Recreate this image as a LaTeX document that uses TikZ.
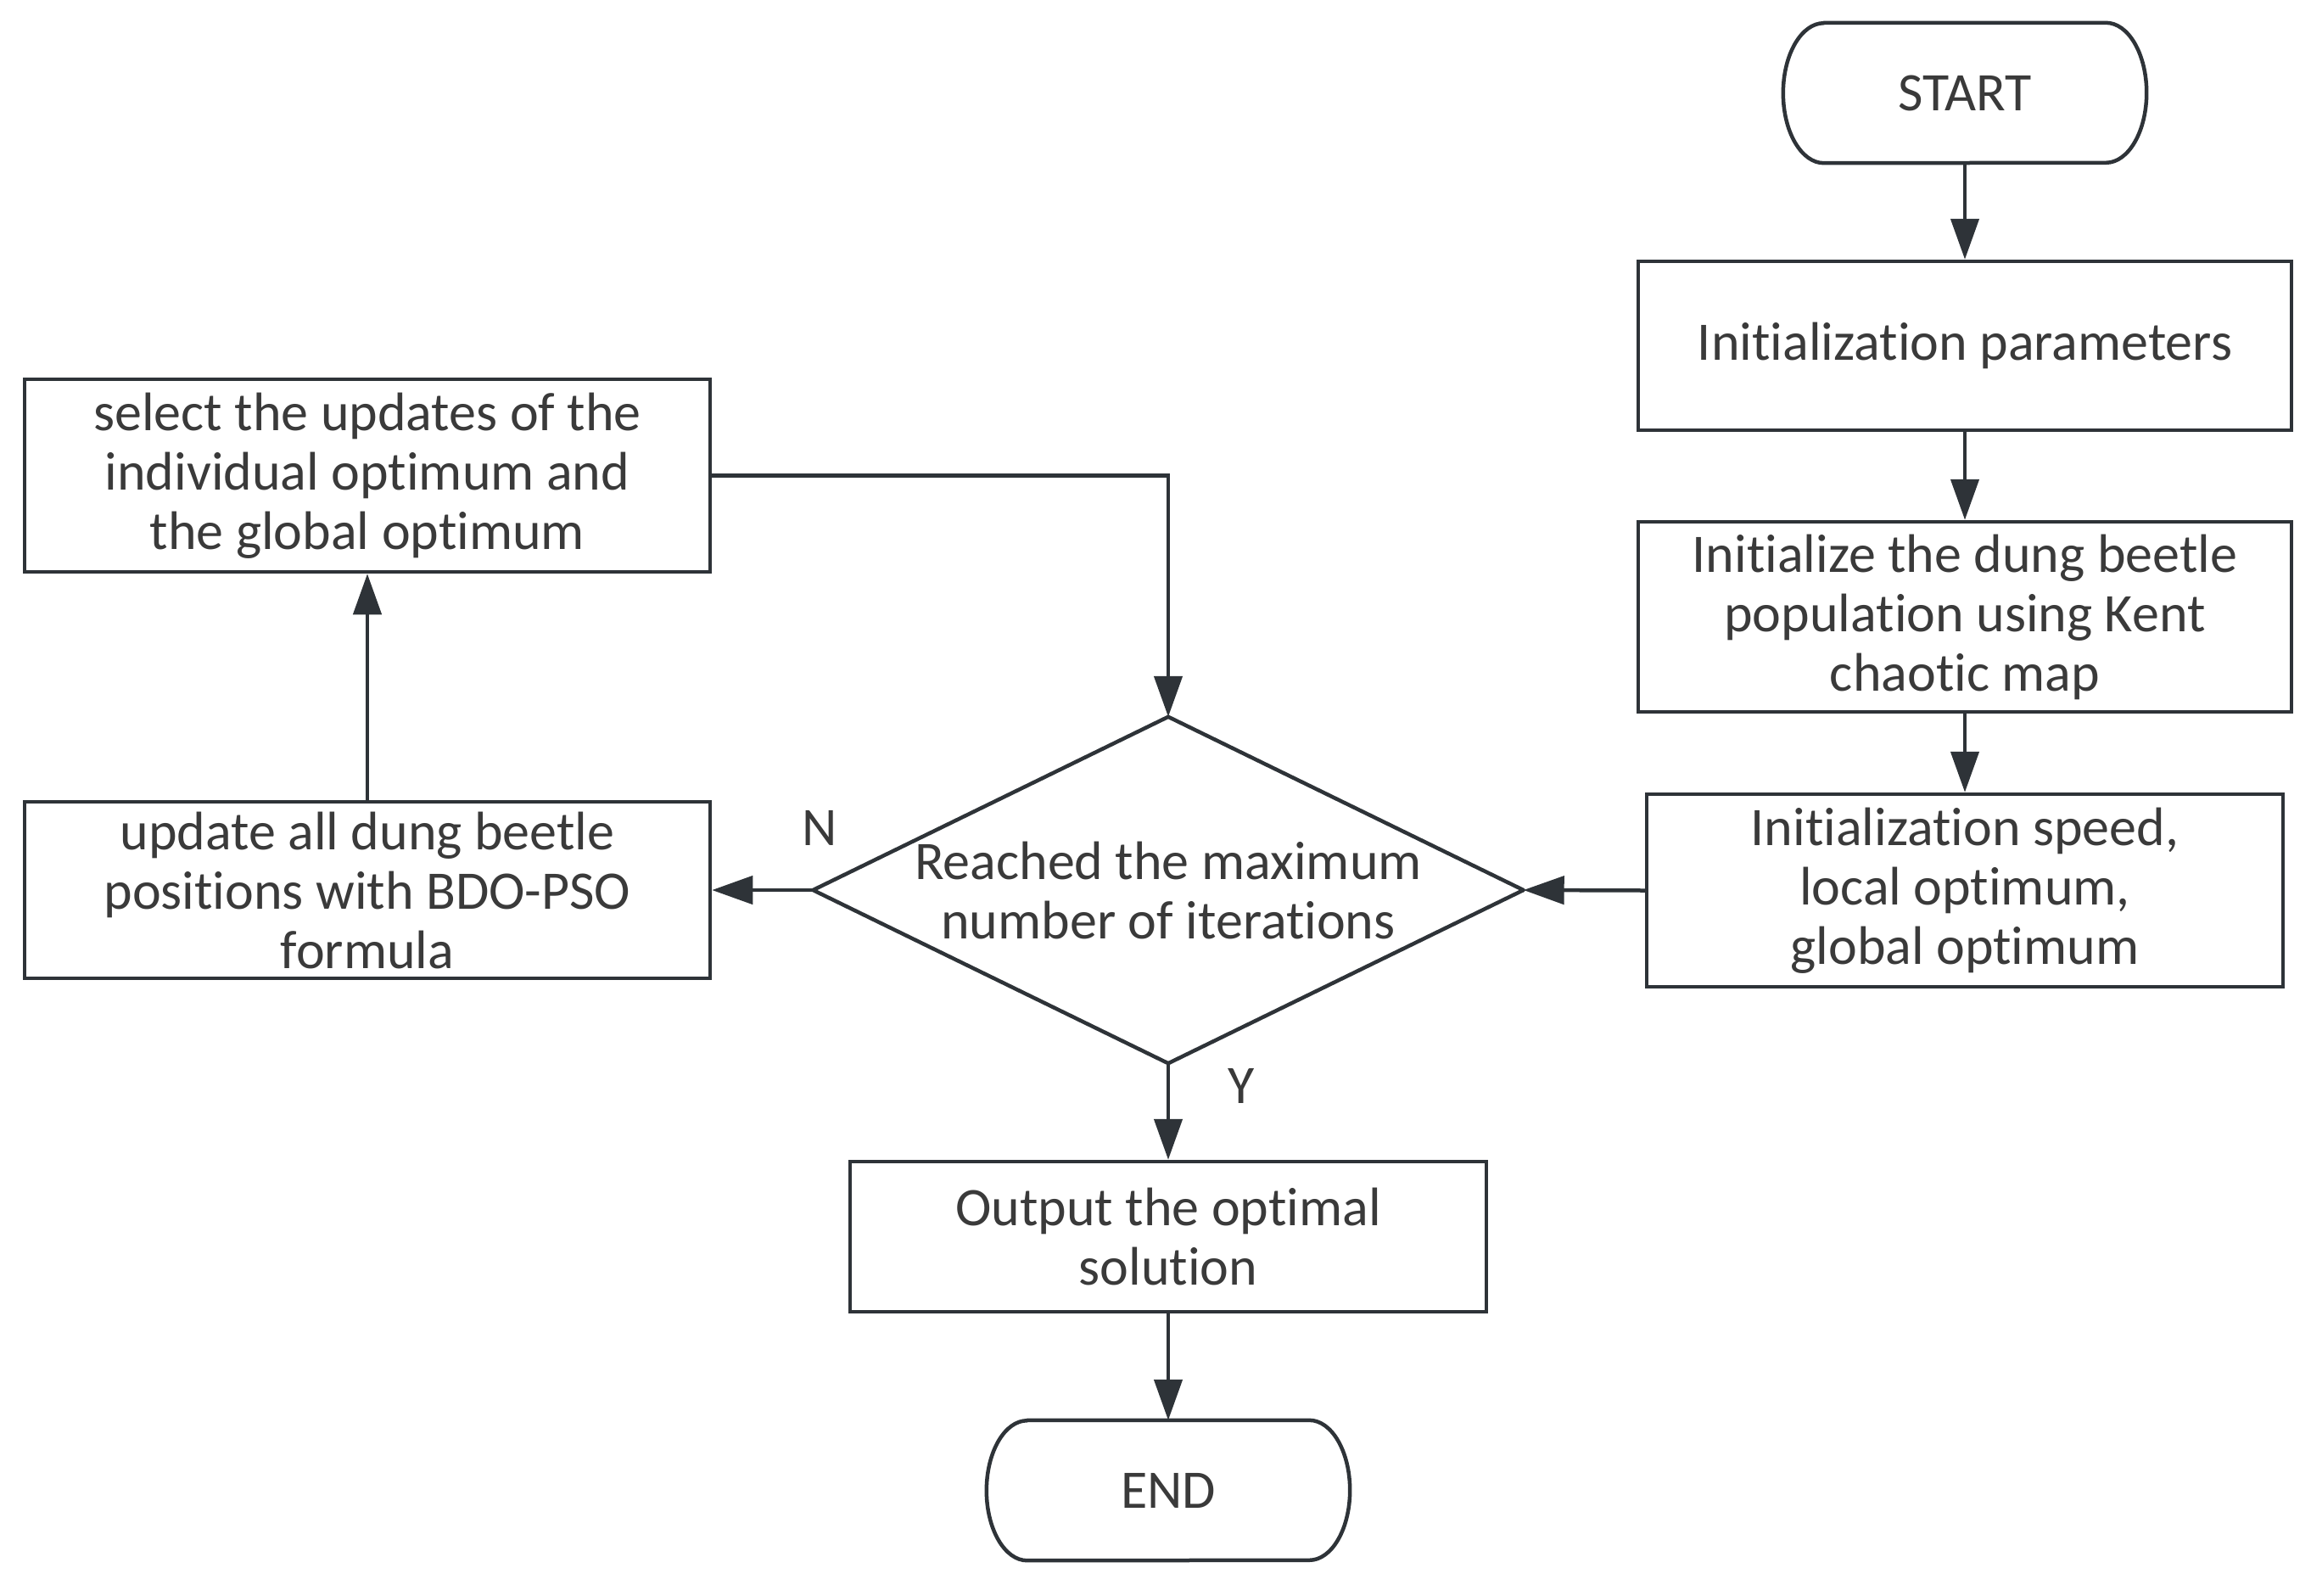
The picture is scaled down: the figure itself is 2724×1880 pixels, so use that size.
\documentclass[tikz,border=0pt]{standalone}
\usepackage{fontspec}
\setmainfont{Carlito}[Ligatures={NoCommon}]
\usetikzlibrary{arrows.meta}
\definecolor{ln}{HTML}{2E3338}
\definecolor{tx}{HTML}{3A3A3A}
\begin{document}
\begin{tikzpicture}[x=1pt,y=-1pt,
  font=\fontsize{64pt}{70pt}\selectfont, text=tx,
  box/.style={draw=ln, line width=4.5pt, align=center, inner sep=0pt},
  term/.style={draw=none, align=center, inner sep=0pt, minimum width=428pt, minimum height=165pt},
  outline/.style={draw=ln, line width=4.5pt, line join=round},
  flow/.style={draw=ln, line width=4.5pt, -{Triangle[length=48pt,width=33pt]}},
  lbl/.style={inner sep=0pt}]
\useasboundingbox (0,0) rectangle (2724,1880);
\fill[white] (0,0) rectangle (2724,1880);

% nodes
\node[term] (s) at (2316,109.5) {START};
\node[box, minimum width=770pt, minimum height=199pt] (p1) at (2316,407.5) {Initialization parameters};
\node[box, minimum width=770pt, minimum height=224pt] (p2) at (2316,727) {Initialize the dung beetle\\population using Kent\\chaotic map};
\node[box, minimum width=750pt, minimum height=227pt] (p3) at (2316,1049.5) {Initialization speed,\\local optimum,\\global optimum};
\node[align=center, inner sep=0pt, minimum width=837pt, minimum height=408pt] (d) at (1377,1049) {Reached the maximum\\number of iterations};
\node[box, minimum width=808pt, minimum height=208pt] (upd) at (433,1049) {update all dung beetle\\positions with BDO-PSO\\formula};
\node[box, minimum width=808pt, minimum height=227pt] (sel) at (433,560.5) {select the updates of the\\individual optimum and\\the global optimum};
\node[box, minimum width=750pt, minimum height=177pt] (out) at (1377,1457.5) {Output the optimal\\solution};
\node[term] (e) at (1377,1756.5) {END};
\node[lbl] (nl) at (966,976) {N};
\node[lbl] (yl) at (1463,1280) {Y};

% outlines of terminals and decision
\draw[outline] ([xshift=48pt]s.north west) -- ([xshift=-48pt]s.north east)
  arc[start angle=90,end angle=-90,x radius=48pt,y radius=82.5pt]
  -- ([xshift=48pt]s.south west)
  arc[start angle=270,end angle=90,x radius=48pt,y radius=82.5pt] -- cycle;
\draw[outline] ([xshift=48pt]e.north west) -- ([xshift=-48pt]e.north east)
  arc[start angle=90,end angle=-90,x radius=48pt,y radius=82.5pt]
  -- ([xshift=48pt]e.south west)
  arc[start angle=270,end angle=90,x radius=48pt,y radius=82.5pt] -- cycle;
\draw[outline] (d.north) -- (d.east) -- (d.south) -- (d.west) -- cycle;

% connectors
\draw[flow] (s.south) -- (p1.north);
\draw[flow] (p1.south) -- (p2.north);
\draw[flow] (p2.south) -- (p3.north);
\draw[flow] (p3.west) -- (d.east);
\draw[flow] (d.west) -- (upd.east);
\draw[flow] (upd.north) -- (sel.south);
\draw[flow] (sel.east) -| (d.north);
\draw[flow] (d.south) -- (out.north);
\draw[flow] (out.south) -- (e.north);
\end{tikzpicture}
\end{document}
